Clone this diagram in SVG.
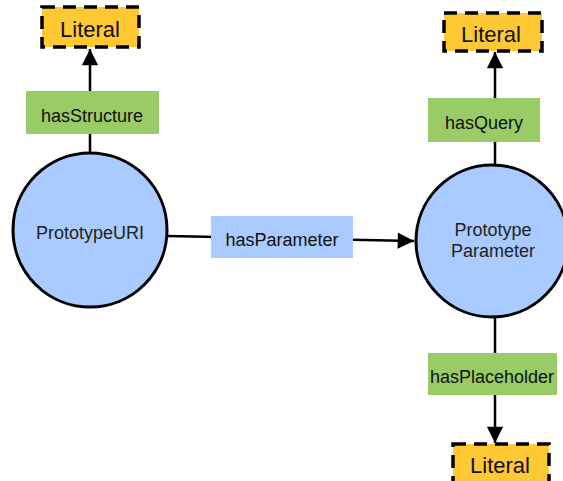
<svg xmlns="http://www.w3.org/2000/svg" width="563" height="481" viewBox="0 0 563 481">
  <style>
    .lit rect { fill: #ffc933; stroke: #000; stroke-width: 3.5; stroke-dasharray: 13 8; }
    .lit text { font-family: "Liberation Sans", Arial, sans-serif; font-size: 22px; fill: #111; text-anchor: middle; }
    .cls circle { fill: #a9cbff; stroke: #000; stroke-width: 3; }
    .cls text { font-family: "Liberation Sans", Arial, sans-serif; font-size: 18px; fill: #222; text-anchor: middle; }
    .lbl rect.prop { fill: #99cc66; }
    .lbl rect.rel { fill: #a9cbff; }
    .lbl text { font-family: "Liberation Sans", Arial, sans-serif; font-size: 18px; fill: #111; text-anchor: middle; }
    .edge { stroke: #000; stroke-width: 2.5; fill: none; }
  </style>
  <defs>
    <marker id="arrow" viewBox="0 0 10 10" refX="10" refY="5" markerWidth="7" markerHeight="6.5" orient="auto" markerUnits="strokeWidth">
      <path d="M0,0 L10,5 L0,10 Z" fill="#000"/>
    </marker>
  </defs>

  <rect width="563" height="481" fill="#fff"/>

  <!-- connectors -->
  <g id="connectors">
    <line class="edge" x1="90" y1="153" x2="90" y2="49" marker-end="url(#arrow)"/>
    <line class="edge" x1="167" y1="236" x2="414" y2="241" marker-end="url(#arrow)"/>
    <line class="edge" x1="495" y1="166" x2="495" y2="52" marker-end="url(#arrow)"/>
    <line class="edge" x1="495" y1="316" x2="495" y2="443" marker-end="url(#arrow)"/>
  </g>

  <!-- edge labels -->
  <g id="label-hasStructure" class="lbl">
    <rect class="prop" x="26" y="91" width="133" height="43"/>
    <text x="92" y="122">hasStructure</text>
  </g>
  <g id="label-hasParameter" class="lbl">
    <rect class="rel" x="211" y="216" width="142" height="42"/>
    <text x="282" y="246">hasParameter</text>
  </g>
  <g id="label-hasQuery" class="lbl">
    <rect class="prop" x="428" y="98" width="112" height="44"/>
    <text x="484" y="129">hasQuery</text>
  </g>
  <g id="label-hasPlaceholder" class="lbl">
    <rect class="prop" x="428" y="353" width="129" height="42"/>
    <text x="492" y="383">hasPlaceholder</text>
  </g>

  <!-- class nodes -->
  <g id="node-PrototypeURI" class="cls">
    <circle cx="90" cy="230" r="77"/>
    <text x="90" y="239">PrototypeURI</text>
  </g>
  <g id="node-PrototypeParameter" class="cls">
    <circle cx="492" cy="241" r="76"/>
    <text x="493" y="236">Prototype</text>
    <text x="493" y="257">Parameter</text>
  </g>

  <!-- literal nodes -->
  <g id="node-Literal-structure" class="lit">
    <rect x="42" y="7" width="97" height="40"/>
    <text x="90" y="37">Literal</text>
  </g>
  <g id="node-Literal-query" class="lit">
    <rect x="444" y="13" width="98" height="38"/>
    <text x="491" y="42">Literal</text>
  </g>
  <g id="node-Literal-placeholder" class="lit">
    <rect x="453" y="444" width="96" height="42"/>
    <text x="500" y="473">Literal</text>
  </g>
</svg>
